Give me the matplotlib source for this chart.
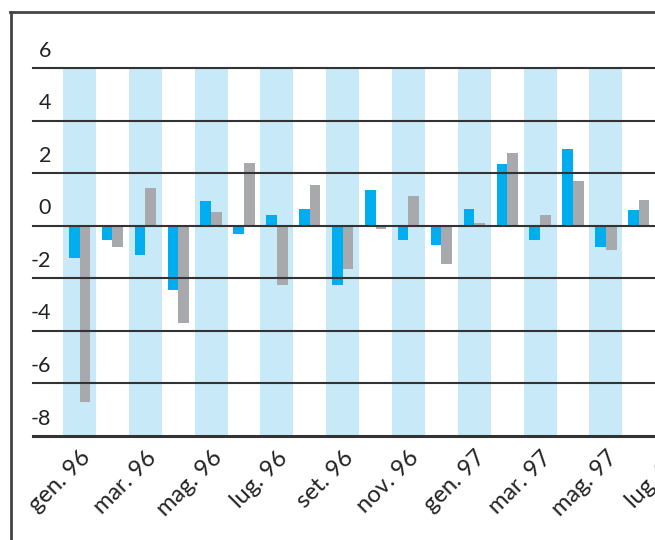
import numpy as np
import matplotlib.pyplot as plt
from matplotlib.lines import Line2D
from matplotlib.transforms import blended_transform_factory

# months gen. 96 ... lug. 97 (the last one is cut off at the right edge)
months = ['gen. 96', 'feb. 96', 'mar. 96', 'apr. 96', 'mag. 96', 'giu. 96',
          'lug. 96', 'ago. 96', 'set. 96', 'ott. 96', 'nov. 96', 'dic. 96',
          'gen. 97', 'feb. 97', 'mar. 97', 'apr. 97', 'mag. 97', 'giu. 97',
          'lug. 97']
# values (lug. 97 is not visible)
serie_blu = [-1.24, -0.55, -1.12, -2.45, 0.94, -0.32, 0.41, 0.63, -2.26,
             1.36, -0.55, -0.74, 0.63, 2.35, -0.55, 2.92, -0.81, 0.60]
serie_grigia = [-6.70, -0.80, 1.45, -3.69, 0.52, 2.38, -2.26, 1.55, -1.65,
                -0.13, 1.13, -1.46, 0.10, 2.76, 0.41, 1.70, -0.93, 0.98]
yticks = [6, 4, 2, 0, -2, -4, -6, -8]

col_blu = '#00aeef'
col_grigio = '#a7a9ac'
col_banda = '#c8e9f8'
col_linea = '#333333'

plt.rcParams['font.family'] = ['Lato', 'DejaVu Sans']

W, H = 655, 540
fig = plt.figure(figsize=(W / 100, H / 100), dpi=100)

# axes run past the right edge, the chart is cropped there
left_px, right_px, top_px, bottom_px = 33, 700, 68, 436
ax = fig.add_axes([left_px / W, 1 - bottom_px / H,
                   (right_px - left_px) / W, (bottom_px - top_px) / H])

x0, dx = 79.5, 32.9  # pixel of first month, pixels per month
ax.set_xlim((left_px - x0) / dx, (right_px - x0) / dx)
ax.set_ylim(-8, 6)

# light blue bands behind every other month
for i in range(0, len(months), 2):
    ax.axvspan(i - 0.5, i + 0.5, color=col_banda, lw=0, zorder=0)

x = np.arange(len(serie_blu))
w = 0.325
ax.bar(x - w / 2, serie_blu, width=w, color=col_blu, zorder=2)
ax.bar(x + w / 2, serie_grigia, width=w, color=col_grigio, zorder=2)

for v in yticks:
    ax.axhline(v, color=col_linea, lw=2.2 if v == -8 else 1.5, zorder=3,
               clip_on=False)

for s in ax.spines.values():
    s.set_visible(False)
ax.set_yticks([])
ax.set_xticks(np.arange(0, len(months), 2))
ax.set_xticklabels(months[::2], rotation=45, ha='right', va='top',
                   rotation_mode='anchor', fontsize=17, color='#222222')
ax.tick_params(axis='x', length=0, pad=8)

# y labels sit just above each grid line
tr = blended_transform_factory(fig.transFigure, ax.transData)
for v in yticks:
    ax.text(51 / W, v + 0.28, str(v), transform=tr,
            ha='right', va='bottom', fontsize=15.5, color='#222222')

# frame of the original figure (top and left edges visible)
fig.add_artist(Line2D([11 / W, 11 / W], [0, 1 - 12 / H], color='#444444',
                      lw=2, transform=fig.transFigure))
fig.add_artist(Line2D([10 / W, 1], [1 - 12 / H, 1 - 12 / H], color='#444444',
                      lw=2, transform=fig.transFigure))

fig.savefig('out.png', dpi=100)
